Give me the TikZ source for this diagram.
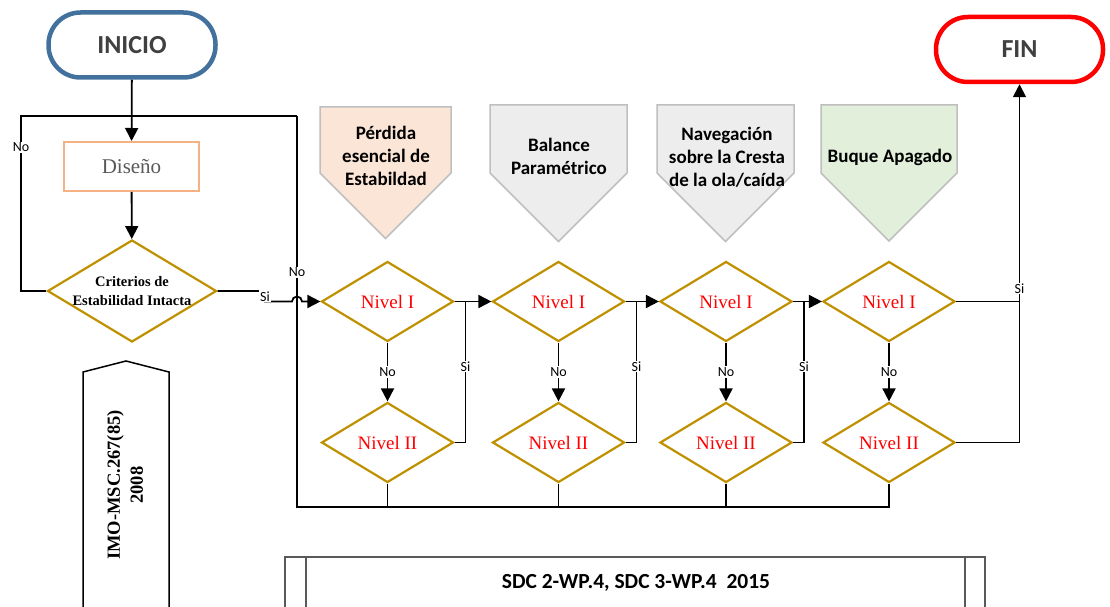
\documentclass[tikz,border=0pt]{standalone}
\usepackage{fontspec}
\setmainfont{Liberation Serif}
\setsansfont{Carlito}
\usetikzlibrary{arrows.meta,shapes.geometric}

\definecolor{startblue}{HTML}{41719C}
\definecolor{gold}{HTML}{BF9000}
\definecolor{peach}{HTML}{FBE5D6}
\definecolor{paleg}{HTML}{EDEDED}
\definecolor{palegreen}{HTML}{E2EFDA}
\definecolor{edgegray}{HTML}{BFBFBF}
\definecolor{darktext}{HTML}{404040}
\definecolor{midgray}{HTML}{595959}
\definecolor{boxorange}{HTML}{F4B183}

\begin{document}
\begin{tikzpicture}[x=1pt,y=-1pt,
  terminal/.style={rectangle, rounded corners=32pt, line width=4.5pt, fill=white,
    minimum width=167pt, minimum height=65pt,
    font=\sffamily\bfseries\fontsize{26}{30}\selectfont, text=darktext},
  decision/.style={diamond, draw=gold, line width=2.2pt, fill=white, inner sep=0pt,
    minimum width=132pt, minimum height=80pt},
  nivel/.style={text=red, font=\fontsize{19}{21}\selectfont},
  flow/.style={line width=1.8pt, -{Triangle[length=13pt,width=13pt]}},
  wire/.style={line width=1.8pt},
  tag/.style={fill=white, inner sep=1pt, font=\sffamily\fontsize{14}{14}\selectfont},
  pent/.style={draw=edgegray, line width=1.5pt},
  penttext/.style={font=\sffamily\bfseries\fontsize{19}{23}\selectfont, align=center},
]
\useasboundingbox (0,0) rectangle (1110,607);

% ---- criteria banners over each column
\draw[pent, fill=peach]     (320,107) -- (451,107) -- (451,173) -- (385.5,238.5) -- (320,173) -- cycle;
\draw[pent, fill=paleg]     (490,105) -- (627,105) -- (627,173) -- (558.5,241.5) -- (490,173) -- cycle;
\draw[pent, fill=paleg]     (657,105) -- (794,105) -- (794,173) -- (725.5,241.5) -- (657,173) -- cycle;
\draw[pent, fill=palegreen] (821,105) -- (957,105) -- (957,173) -- (889,241) -- (821,173) -- cycle;
\node[penttext] (t1) at (386,156) {Pérdida\\esencial de\\Estabildad};
\node[penttext] (t2) at (559,156) {Balance\\Paramétrico};
\node[penttext] (t3) at (727,157) {Navegación\\sobre la Cresta\\de la ola/caída};
\node[penttext] (t4) at (890,157) {Buque Apagado};

% ---- regulation side banner
\draw[line width=1.5pt, fill=white] (83,612) -- (83,372) -- (126,361) -- (169,372) -- (169,612);
\node[rotate=90, font=\bfseries\fontsize{18.5}{23}\selectfont, align=center] (imo) at (125,485)
  {IMO-MSC.267(85)\\2008};

% ---- bottom regulation box
\draw[draw=midgray, line width=1.5pt] (285,612) |- (985,557) -- (985,612);
\draw[draw=midgray, line width=1.5pt] (306,557) -- (306,612);
\draw[draw=midgray, line width=1.5pt] (965,557) -- (965,612);
\node[font=\sffamily\bfseries\fontsize{21.5}{24}\selectfont] (sdc) at (636,583)
  {SDC 2-WP.4, SDC 3-WP.4\ \ 2015};

% ---- nodes
\node[terminal, draw=startblue] (ini) at (132,45) {INICIO};
\node[terminal, draw=red] (fin) at (1019.5,49.5) {FIN};
\node[draw=boxorange, line width=2pt, minimum width=135pt, minimum height=49pt,
  text=midgray, font=\fontsize{21}{24}\selectfont] (dis) at (131.5,166.5) {Diseño};
\node[decision, minimum width=169pt, minimum height=102pt,
  label={[align=center, font=\bfseries\fontsize{14.5}{18.5}\selectfont]center:Criterios de\\Estabilidad Intacta}]
  (crit) at (132,291) {};

\foreach \n/\x in {a/387.5, b/558.5, c/726, d/889} {
  \node[decision, label={[nivel]center:Nivel I}]  (n1\n) at (\x,301.5) {};
  \node[decision, label={[nivel]center:Nivel II}] (n2\n) at (\x,442.5) {};
}

% ---- loop-back lines
\coordinate (loopL) at (21,291);
\coordinate (topL) at (21,116);
\coordinate (topR) at (297,116);
\coordinate (busL) at (297,507);
\draw[wire] (crit.west) -- (loopL) -- node[tag, pos=0.82] (noL) {No} (topL) -- (topR);
\draw[wire] (n2d.south) |- (busL) -- node[tag, pos=0.60] (noR) {No} (topR);
\foreach \n in {a,b,c} \draw[wire] (n2\n.south) -- (n2\n.south |- busL);

% ---- main flow
\draw[flow] (ini) -- (dis);
\draw[flow] (dis) -- (crit);
\draw[flow] (crit.east) -- (265,291) -- node[tag, pos=0.5] (siC) {Si} (265,301.5) -- (292,301.5)
  arc[start angle=180, end angle=0, radius=5pt] -- (n1a.west);
\draw[flow] (n1a.east) -- (n1b.west);
\draw[flow] (n1b.east) -- (n1c.west);
\draw[flow] (n1c.east) -- (n1d.west);
\draw[flow] (n1d.east) -| node[tag, pos=0.53] (siF) {Si} (fin.south);

\foreach \n in {a,b,c,d}
  \draw[flow] (n1\n.south) -- node[tag] (no\n) {No} (n2\n.north);

\foreach \n/\x in {a/465.5, b/636.5, c/804}
  \draw[wire] (n2\n.east) -- (\x,442.5) -- node[tag, pos=0.54] (si\n) {Si} (\x,301.5);
\draw[wire] (n2d.east) -- (1019.5,442.5) -- (1019.5,301.5);

\end{tikzpicture}
\end{document}
